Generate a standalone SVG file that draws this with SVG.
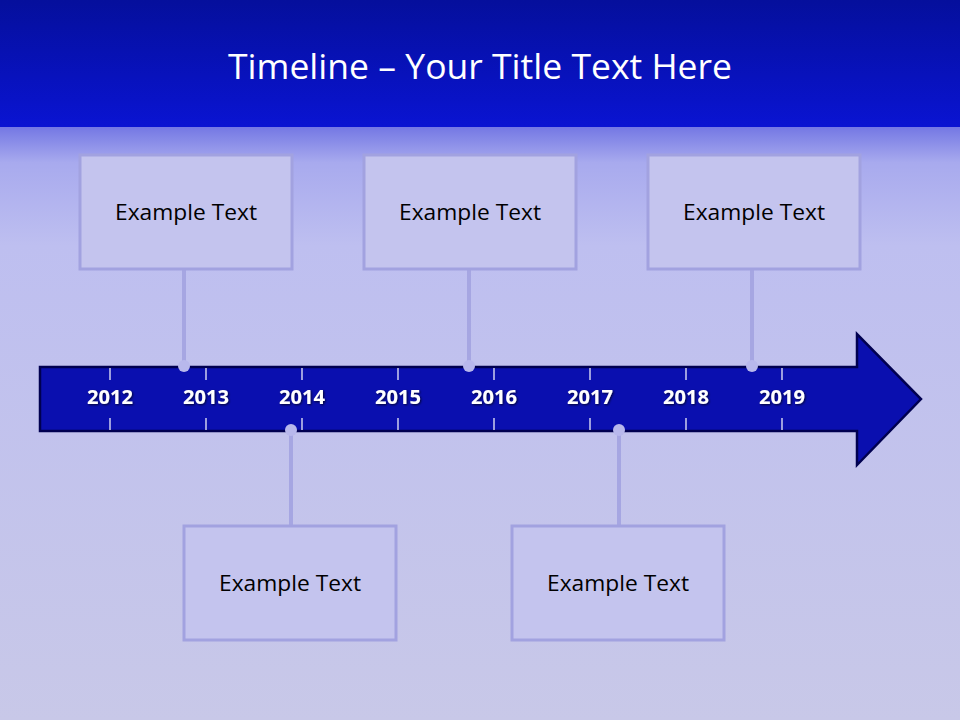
<svg xmlns="http://www.w3.org/2000/svg" width="960" height="720" viewBox="0 0 960 720">
  <defs>
    <linearGradient id="hdr" x1="0" y1="0" x2="0" y2="1">
      <stop offset="0" stop-color="#050f9c"/>
      <stop offset="1" stop-color="#0a14d2"/>
    </linearGradient>
    <linearGradient id="bg" x1="0" y1="0" x2="0" y2="1">
      <stop offset="0" stop-color="#7478e4"/>
      <stop offset="0.06" stop-color="#a8aaee"/>
      <stop offset="0.2" stop-color="#bebff0"/>
      <stop offset="1" stop-color="#c8c8e8"/>
    </linearGradient>
    <filter id="sh" x="-20%" y="-20%" width="140%" height="140%">
      <feDropShadow dx="1" dy="1" stdDeviation="0.8" flood-color="#000" flood-opacity="0.7"/>
    </filter>
  </defs>
  <style>
    .box { fill: #c4c4ee; stroke: #a2a2e0; stroke-width: 3; }
    .lbl { font-family: "Open Sans", "Noto Sans", sans-serif; font-size: 22px; fill: #000; text-anchor: middle; }
    .yr { font-family: "Open Sans", "Noto Sans", sans-serif; font-weight: bold; font-size: 19px; fill: #fff; text-anchor: middle; }
    .tick { stroke: #ffffff; stroke-width: 1.2; }
    .conn { stroke: #a6a6e2; stroke-width: 4; fill: none; }
    .dot { fill: #b8b8ec; }
  </style>
  <rect x="0" y="127" width="960" height="593" fill="url(#bg)"/>
  <rect x="0" y="0" width="960" height="127" fill="url(#hdr)"/>
  <text x="480" y="79" font-family="Open Sans, Noto Sans, sans-serif" font-size="35" fill="#fff" text-anchor="middle" textLength="504" lengthAdjust="spacingAndGlyphs">Timeline – Your Title Text Here</text>

  <g id="connectors">
    <line class="conn" x1="184" y1="269" x2="184" y2="366"/>
    <line class="conn" x1="469" y1="269" x2="469" y2="366"/>
    <line class="conn" x1="752" y1="269" x2="752" y2="366"/>
    <line class="conn" x1="291" y1="430" x2="291" y2="526"/>
    <line class="conn" x1="619" y1="430" x2="619" y2="526"/>
  </g>

  <g id="arrow">
    <path d="M40,367 L857,367 L857,334 L921,399 L857,465 L857,431 L40,431 Z" fill="#0a0faf" stroke="#000050" stroke-width="2.5" stroke-linejoin="miter"/>
    <g class="tick">
      <line x1="110" y1="368" x2="110" y2="380"/><line x1="110" y1="418" x2="110" y2="430"/>
      <line x1="206" y1="368" x2="206" y2="380"/><line x1="206" y1="418" x2="206" y2="430"/>
      <line x1="302" y1="368" x2="302" y2="380"/><line x1="302" y1="418" x2="302" y2="430"/>
      <line x1="398" y1="368" x2="398" y2="380"/><line x1="398" y1="418" x2="398" y2="430"/>
      <line x1="494" y1="368" x2="494" y2="380"/><line x1="494" y1="418" x2="494" y2="430"/>
      <line x1="590" y1="368" x2="590" y2="380"/><line x1="590" y1="418" x2="590" y2="430"/>
      <line x1="686" y1="368" x2="686" y2="380"/><line x1="686" y1="418" x2="686" y2="430"/>
      <line x1="782" y1="368" x2="782" y2="380"/><line x1="782" y1="418" x2="782" y2="430"/>
    </g>
    <g filter="url(#sh)">
      <text class="yr" x="110" y="404" textLength="46" lengthAdjust="spacingAndGlyphs">2012</text>
      <text class="yr" x="206" y="404" textLength="46" lengthAdjust="spacingAndGlyphs">2013</text>
      <text class="yr" x="302" y="404" textLength="46" lengthAdjust="spacingAndGlyphs">2014</text>
      <text class="yr" x="398" y="404" textLength="46" lengthAdjust="spacingAndGlyphs">2015</text>
      <text class="yr" x="494" y="404" textLength="46" lengthAdjust="spacingAndGlyphs">2016</text>
      <text class="yr" x="590" y="404" textLength="46" lengthAdjust="spacingAndGlyphs">2017</text>
      <text class="yr" x="686" y="404" textLength="46" lengthAdjust="spacingAndGlyphs">2018</text>
      <text class="yr" x="782" y="404" textLength="46" lengthAdjust="spacingAndGlyphs">2019</text>
    </g>
  </g>

  <g id="dots">
    <circle class="dot" cx="184" cy="366" r="6"/>
    <circle class="dot" cx="469" cy="366" r="6"/>
    <circle class="dot" cx="752" cy="366" r="6"/>
    <circle class="dot" cx="291" cy="430" r="6"/>
    <circle class="dot" cx="619" cy="430" r="6"/>
  </g>

  <g id="node1"><rect class="box" x="80" y="155" width="212" height="114"/><text class="lbl" x="186" y="220" textLength="142" lengthAdjust="spacingAndGlyphs">Example Text</text></g>
  <g id="node2"><rect class="box" x="364" y="155" width="212" height="114"/><text class="lbl" x="470" y="220" textLength="142" lengthAdjust="spacingAndGlyphs">Example Text</text></g>
  <g id="node3"><rect class="box" x="648" y="155" width="212" height="114"/><text class="lbl" x="754" y="220" textLength="142" lengthAdjust="spacingAndGlyphs">Example Text</text></g>
  <g id="node4"><rect class="box" x="184" y="526" width="212" height="114"/><text class="lbl" x="290" y="591" textLength="142" lengthAdjust="spacingAndGlyphs">Example Text</text></g>
  <g id="node5"><rect class="box" x="512" y="526" width="212" height="114"/><text class="lbl" x="618" y="591" textLength="142" lengthAdjust="spacingAndGlyphs">Example Text</text></g>
</svg>
